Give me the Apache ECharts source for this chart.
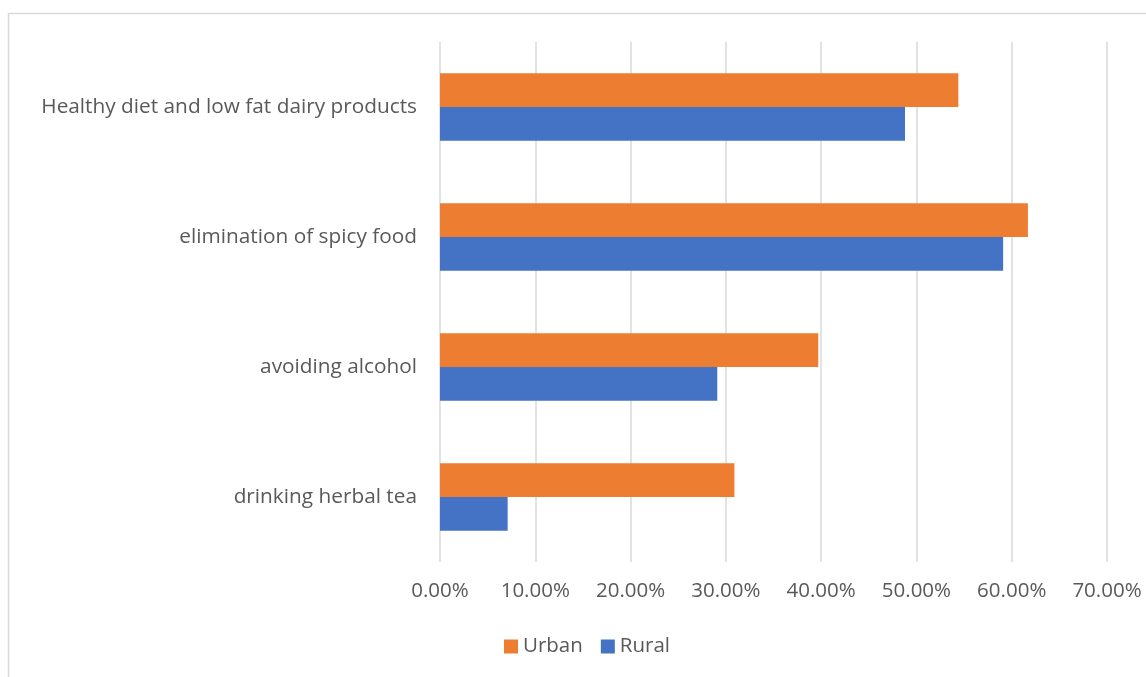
<!DOCTYPE html>
<html>
<head>
<meta charset="utf-8">
<script src="https://cdn.jsdelivr.net/npm/echarts@6/dist/echarts.min.js"></script>
<style>html,body{margin:0;padding:0;background:#fff;}#c{width:1146px;height:677px;}</style>
</head>
<body>
<div id="c"></div>
<script>
const categories = ['drinking herbal tea', 'avoiding alcohol', 'elimination of spicy food', 'Healthy diet and low fat dairy products'];
const urban = [30.9, 39.7, 61.7, 54.4];
const rural = [7.1, 29.1, 59.1, 48.8];
const xTicks = { min: 0, max: 70, interval: 10 };

const chart = echarts.init(document.getElementById('c'));
const font = '"Open Sans", sans-serif';
chart.setOption({
  animation: false,
  graphic: [{
    type: 'rect', left: 6, top: 11, shape: { width: 1300, height: 800 },
    style: { fill: 'none', stroke: '#d9d9d9', lineWidth: 1.5 }, silent: true
  }],
  grid: { left: 440, right: 39, top: 42, bottom: 115 },
  legend: {
    data: ['Urban', 'Rural'], top: 631, left: 499,
    itemWidth: 14, itemHeight: 14, itemGap: 18, icon: 'rect',
    textStyle: { color: '#595959', fontSize: 20.5, fontFamily: font, padding: [0, 0, 0, 0] }
  },
  xAxis: {
    type: 'value', min: xTicks.min, max: xTicks.max, interval: xTicks.interval,
    axisLine: { show: false }, axisTick: { show: false },
    splitLine: { lineStyle: { color: '#d9d9d9', width: 1.5 } },
    axisLabel: { formatter: v => v.toFixed(2) + '%', color: '#595959', fontSize: 20.5, fontFamily: font, margin: 19 }
  },
  yAxis: {
    type: 'category', data: categories,
    axisLine: { show: false }, axisTick: { show: false },
    axisLabel: { color: '#595959', fontSize: 20.8, fontFamily: font, margin: 23 }
  },
  series: [
    { name: 'Urban', type: 'bar', data: urban, itemStyle: { color: '#ED7D31' }, barGap: '0%', barCategoryGap: '48%' },
    { name: 'Rural', type: 'bar', data: rural, itemStyle: { color: '#4472C4' }, barGap: '0%', barCategoryGap: '48%' }
  ]
});
</script>
</body>
</html>
